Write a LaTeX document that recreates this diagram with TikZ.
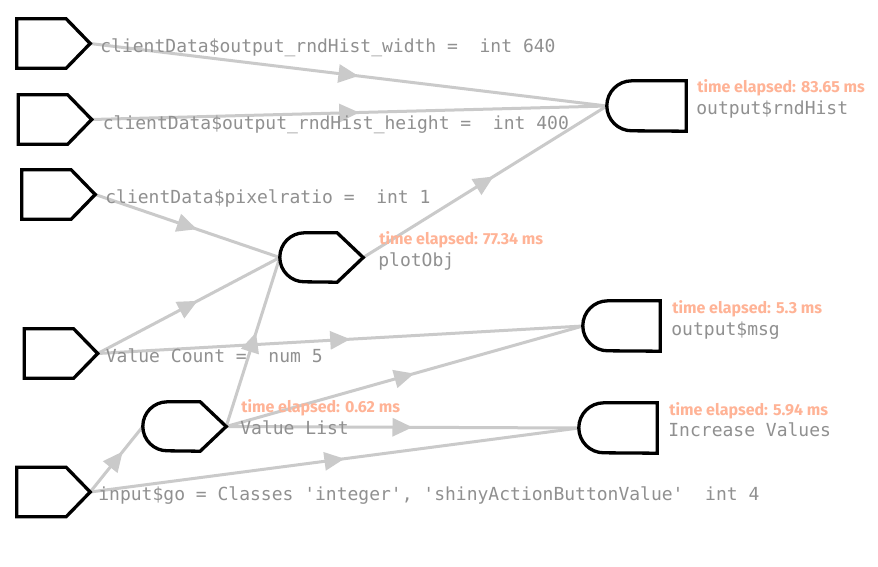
\documentclass[tikz,border=0pt]{standalone}
\usepackage{fontspec}
\newfontfamily\monofont{DejaVu Sans Mono}
\newfontfamily\timefont{Fira Sans}
\usetikzlibrary{arrows.meta,decorations.markings}
\definecolor{edgegray}{HTML}{CACACA}
\definecolor{textgray}{HTML}{909090}
\definecolor{timecol}{HTML}{FFB396}
\begin{document}
\begin{tikzpicture}[x=1pt,y=-1pt,
  box/.style={draw=none, inner sep=0pt, minimum height=49pt},
  shapeline/.style={draw=black, line width=3.3pt, fill=white, line join=miter},
  edge/.style={color=edgegray, line width=3pt, postaction={decorate},
    decoration={markings, mark=at position 0.5 with {\arrow[xshift=10pt]{Triangle[length=20pt,width=18pt]}}}},
  lbl/.style={anchor=base west, inner sep=0pt, font=\monofont\fontsize{18}{20}\selectfont, text=textgray},
  tlbl/.style={anchor=base west, inner sep=0pt, font=\timefont\bfseries\fontsize{16}{18}\selectfont, text=timecol}
]
\fill[white] (0,0) rectangle (878,566);
\useasboundingbox (0,0) rectangle (878,566);

% nodes (invisible frames)
\node[box, minimum width=73pt] (w)   at (53.5,43.5) {};
\node[box, minimum width=73pt] (h)   at (55,119.5) {};
\node[box, minimum width=73pt] (pr)  at (58.5,194.5) {};
\node[box, minimum width=73pt] (vc)  at (61,353.5) {};
\node[box, minimum width=73pt] (go)  at (53.5,492) {};
\node[box, minimum width=83pt] (vl)  at (184.5,426.5) {};
\node[box, minimum width=83pt] (po)  at (321.5,257.5) {};
\node[box, minimum width=79pt, minimum height=50pt] (rh)  at (646.5,106) {};
\node[box, minimum width=77pt, minimum height=50pt] (msg) at (621.5,326) {};
\node[box, minimum width=78pt, minimum height=50pt] (iv)  at (618,428) {};

% edges
\draw[edge] (w.east) -- (rh.west);
\draw[edge] (h.east) -- (rh.west);
\draw[edge] (pr.east) -- (po.west);
\draw[edge] (vc.east) -- (po.west);
\draw[edge] (po.east) -- (rh.west);
\draw[edge] (vc.east) -- (msg.west);
\draw[edge] (vl.east) -- (po.west);
\draw[edge] (vl.east) -- (msg.west);
\draw[edge] (vl.east) -- (iv.west);
\draw[edge] (go.east) -- (vl.west);
\draw[edge] (go.east) -- (iv.west);

% input shapes
\foreach \n in {w,h,pr,vc,go}{
  \draw[shapeline] (\n.north west) -- ([xshift=-24pt]\n.north east) -- (\n.east)
    -- ([xshift=-24pt]\n.south east) -- (\n.south west) -- cycle;
}
% reactive shapes
\foreach \n in {vl,po}{
  \draw[shapeline] (\n.east) -- ([xshift=-26pt]\n.north east) -- ([xshift=24.5pt]\n.north west)
    arc[start angle=90, end angle=270, radius=24.5pt] -- ([xshift=-26pt]\n.south east) -- cycle;
}
% output shapes
\foreach \n in {rh,msg,iv}{
  \draw[shapeline] (\n.north east) -- ([xshift=25pt]\n.north west)
    arc[start angle=90, end angle=270, radius=25pt] -- (\n.south east) -- cycle;
}

% labels
\node[lbl] (lw)  at ([xshift=10pt,yshift=-9pt]w.east) {clientData\$output\_rndHist\_width = \ int 640};
\node[lbl] (lh)  at ([xshift=11pt,yshift=-9.5pt]h.east) {clientData\$output\_rndHist\_height = \ int 400};
\node[lbl] (lpr) at ([xshift=10pt,yshift=-8.5pt]pr.east) {clientData\$pixelratio = \ int 1};
\node[lbl] (lvc) at ([xshift=8pt,yshift=-9pt]vc.east) {Value Count = \ num 5};
\node[lbl] (lgo) at ([xshift=8pt,yshift=-8.7pt]go.east) {input\$go = Classes \textquotesingle integer\textquotesingle, \textquotesingle shinyActionButtonValue\textquotesingle\ \ int 4};

\node[lbl]  (nrh) at ([xshift=10pt,yshift=-8pt]rh.east) {output\$rndHist};
\node[tlbl] (trh) at ([xshift=11pt,yshift=13.3pt]rh.east) {time elapsed: 83.65 ms};
\node[lbl]  (npo) at ([xshift=15pt,yshift=-9pt]po.east) {plotObj};
\node[tlbl] (tpo) at ([xshift=16pt,yshift=13.5pt]po.east) {time elapsed: 77.34 ms};
\node[lbl]  (nmsg) at ([xshift=11pt,yshift=-9pt]msg.east) {output\$msg};
\node[tlbl] (tmsg) at ([xshift=12pt,yshift=12.7pt]msg.east) {time elapsed: 5.3 ms};
\node[lbl]  (niv) at ([xshift=11pt,yshift=-8pt]iv.east) {Increase Values};
\node[tlbl] (tiv) at ([xshift=12pt,yshift=13pt]iv.east) {time elapsed: 5.94 ms};
\node[lbl]  (nvl) at ([xshift=14pt,yshift=-7.5pt]vl.east) {Value List};
\node[tlbl] (tvl) at ([xshift=15pt,yshift=14pt]vl.east) {time elapsed: 0.62 ms};
\end{tikzpicture}
\end{document}
